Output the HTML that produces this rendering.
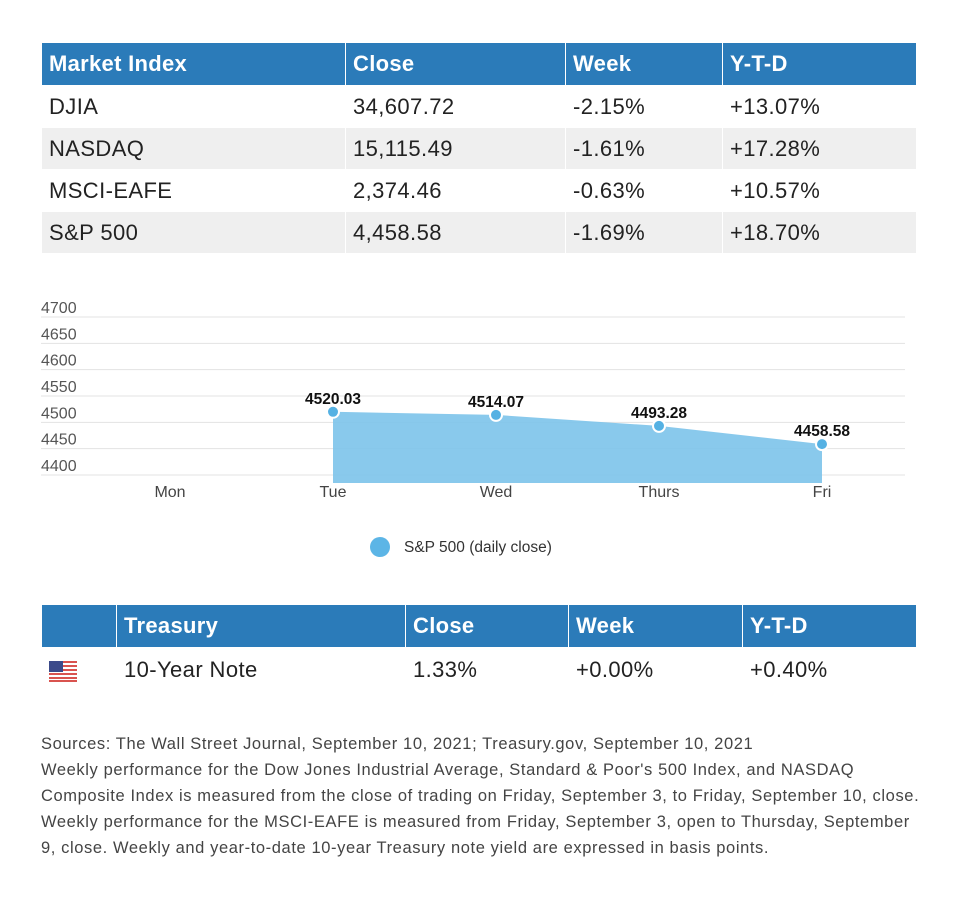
<!DOCTYPE html>
<html><head><meta charset="utf-8"><style>
body{margin:0;width:960px;height:904px;background:#fff;font-family:"Liberation Sans",sans-serif;position:relative;overflow:hidden}
table{position:absolute;left:41px;border-collapse:collapse;table-layout:fixed}
td,th{padding:0 0 0 7px;text-align:left;border:1px solid #fff;white-space:nowrap}
th{background:#2b7bb9;color:#fff;font-size:22px;font-weight:bold;height:42px;letter-spacing:0.3px}
td{font-size:22px;color:#222;height:41px;letter-spacing:0.4px}
tr.g td{background:#efefef}
#notes{position:absolute;left:41px;top:731px;font-size:16.5px;letter-spacing:0.6px;line-height:26px;color:#444;width:910px;white-space:nowrap}
</style></head><body>
<table style="top:42px;width:875px">
<colgroup><col style="width:304px"><col style="width:220px"><col style="width:157px"><col style="width:194px"></colgroup>
<tr><th>Market Index</th><th>Close</th><th>Week</th><th>Y-T-D</th></tr>
<tr><td>DJIA</td><td>34,607.72</td><td>-2.15%</td><td>+13.07%</td></tr>
<tr class="g"><td>NASDAQ</td><td>15,115.49</td><td>-1.61%</td><td>+17.28%</td></tr>
<tr><td>MSCI-EAFE</td><td>2,374.46</td><td>-0.63%</td><td>+10.57%</td></tr>
<tr class="g"><td>S&amp;P 500</td><td>4,458.58</td><td>-1.69%</td><td>+18.70%</td></tr>
</table>

<svg id="chart" width="960" height="580" style="position:absolute;left:0;top:0" font-family="Liberation Sans, sans-serif"></svg>

<table style="top:604px;width:875px">
<colgroup><col style="width:75px"><col style="width:289px"><col style="width:163px"><col style="width:174px"><col style="width:174px"></colgroup>
<tr><th></th><th>Treasury</th><th>Close</th><th>Week</th><th>Y-T-D</th></tr>
<tr><td style="height:44px"><svg width="28" height="21" style="vertical-align:middle;margin-left:0px">
<g fill="#d9534f"><rect y="0" width="28" height="2"/><rect y="4" width="28" height="2"/><rect y="8" width="28" height="2"/><rect y="12" width="28" height="2"/><rect y="16" width="28" height="2"/><rect y="19" width="28" height="2"/></g>
<rect width="14" height="11" fill="#3b4a8a"/></svg></td><td>10-Year Note</td><td>1.33%</td><td>+0.00%</td><td>+0.40%</td></tr>
</table>

<div id="notes">Sources: The Wall Street Journal, September 10, 2021; Treasury.gov, September 10, 2021<br>Weekly performance for the Dow Jones Industrial Average, Standard &amp; Poor's 500 Index, and NASDAQ<br>Composite Index is measured from the close of trading on Friday, September 3, to Friday, September 10, close.<br>Weekly performance for the MSCI-EAFE is measured from Friday, September 3, open to Thursday, September<br>9, close. Weekly and year-to-date 10-year Treasury note yield are expressed in basis points.</div>

<script>
const categories=["Mon","Tue","Wed","Thurs","Fri"];
const values=[null,4520.03,4514.07,4493.28,4458.58];
const yTicks=[4400,4450,4500,4550,4600,4650,4700];
const NS="http://www.w3.org/2000/svg";
const svg=document.getElementById('chart');
function y(v){return 475-(v-4400)*158/300;}
function x(i){return 170+i*163;}
function mk(t,a){const e=document.createElementNS(NS,t);for(const k in a)e.setAttribute(k,a[k]);svg.appendChild(e);return e;}
yTicks.forEach(t=>{
 const l=mk('line',{x1:41,x2:905,y1:y(t),y2:y(t),stroke:'#e3e3e3','stroke-width':1});
 
 
 const tx=mk('text',{x:41,y:y(t)-4,'font-size':16,fill:'#555'});tx.textContent=t;
 
 
});
categories.forEach((c,i)=>{
 const tx=mk('text',{x:x(i),y:497,'font-size':16,fill:'#444','text-anchor':'middle'});tx.textContent=c;
 
 
});
const pts=[];values.forEach((v,i)=>{if(v!=null)pts.push([x(i),y(v)]);});
let d='M'+pts[0][0]+',483 '+pts.map(p=>'L'+p[0]+','+p[1]).join(' ')+' L'+pts[pts.length-1][0]+',483 Z';
const area=mk('path',{d:d,fill:'#7cc3ea',opacity:0.9});


values.forEach((v,i)=>{if(v==null)return;
 const c=mk('circle',{cx:x(i),cy:y(v),r:6,fill:'#55b1e3',stroke:'#fff','stroke-width':2});
 
 
 const t=mk('text',{x:x(i),y:y(v)-8,'font-size':15.5,'font-weight':'bold',fill:'#111','text-anchor':'middle'});t.textContent=v.toFixed(2);
 
 
});
const lc=mk('circle',{cx:380,cy:547,r:10,fill:'#5cb5e6'});


const lt=mk('text',{x:404,y:552,'font-size':15.5,fill:'#333'});lt.textContent='S&P 500 (daily close)';


</script>
</body></html>
